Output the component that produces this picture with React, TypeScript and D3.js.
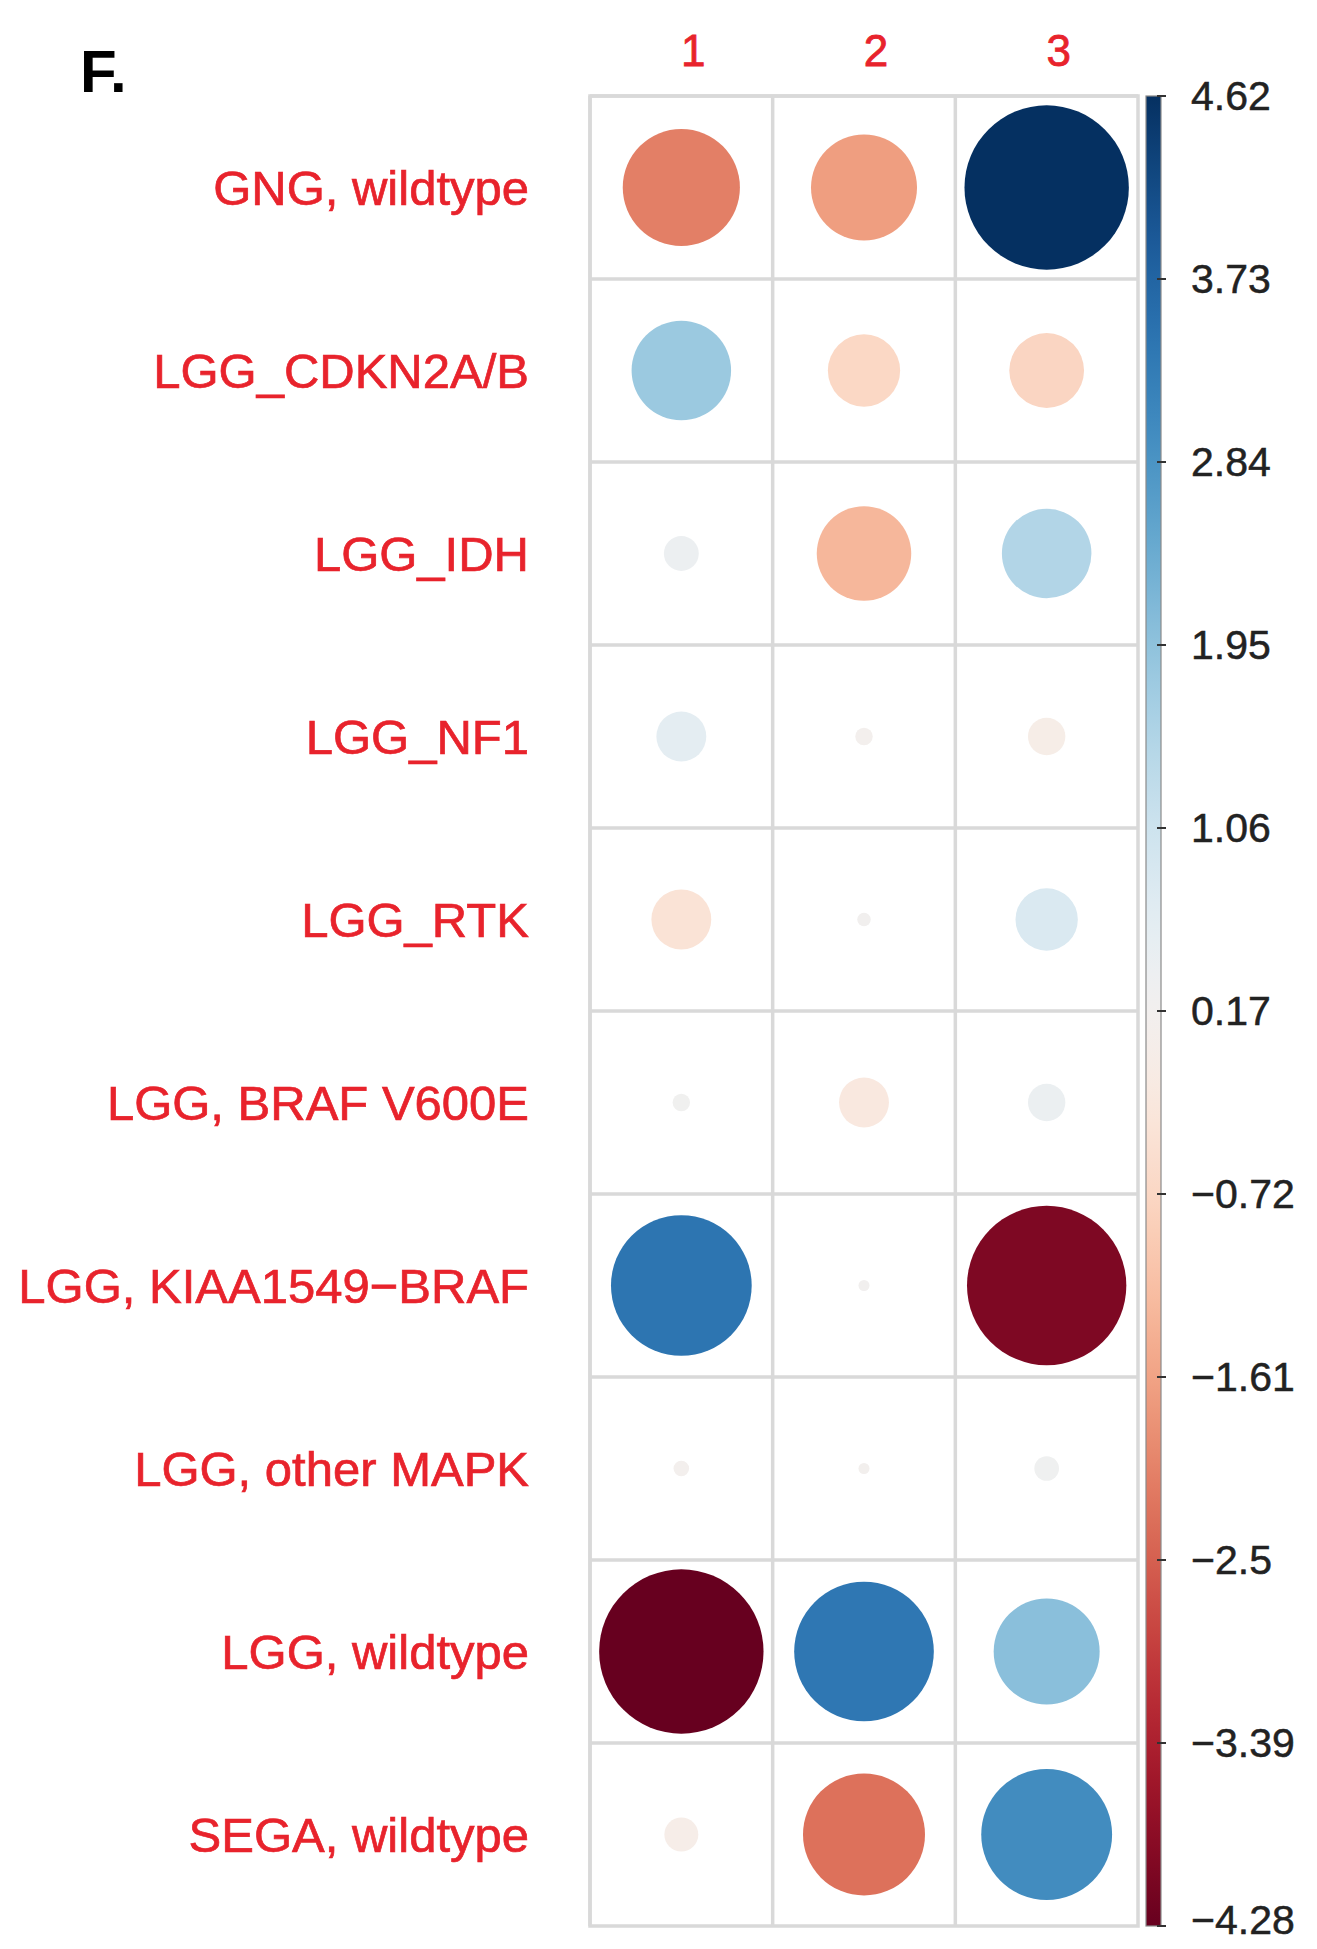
import React from 'react';
import * as d3 from 'd3';

const rowLabels = [
  'GNG, wildtype',
  'LGG_CDKN2A/B',
  'LGG_IDH',
  'LGG_NF1',
  'LGG_RTK',
  'LGG, BRAF V600E',
  'LGG, KIAA1549\u2212BRAF',
  'LGG, other MAPK',
  'LGG, wildtype',
  'SEGA, wildtype',
];

const colLabels = ['1', '2', '3'];

// one value per row, for each column
const col1Values = [-2.09, 1.8, 0.37, 0.58, -0.42, 0.22, 3.43, 0.13, -4.28, -0.02];
const col2Values = [-1.68, -0.69, -1.3, 0.12, 0.2, -0.24, 0.19, 0.15, 3.38, -2.28];
const col3Values = [4.62, -0.75, 1.49, -0.06, 0.81, 0.4, -4.01, 0.27, 2.02, 2.99];

const legendTicks = ['4.62', '3.73', '2.84', '1.95', '1.06', '0.17', '\u22120.72', '\u22121.61', '\u22122.5', '\u22123.39', '\u22124.28'];
const colorMin = -4.28;
const colorMax = 4.62;

const W = 1317;
const H = 1949;
const gridLeft = 590;
const gridRight = 1138;
const gridTop = 96;
const gridBottom = 1926;
const barX = 1146;
const barW = 15;
const labelRed = '#e8232c';

export default function App() {
  const series = [col1Values, col2Values, col3Values];

  const x = d3.scaleBand<string>().domain(colLabels).range([gridLeft, gridRight]).padding(0);
  const y = d3.scaleBand<string>().domain(rowLabels).range([gridTop, gridBottom]).padding(0);

  // corrplot style: values rescaled to [-1, 1] around the middle of the range
  const mid = (colorMin + colorMax) / 2;
  const half = (colorMax - colorMin) / 2;
  const scaled = d3.scaleLinear().domain([mid - half, mid + half]).range([-1, 1]);
  const color = (v: number) => d3.interpolateRdBu((scaled(v) + 1) / 2);
  const rMax = 0.45 * Math.min(x.bandwidth(), y.bandwidth());

  const legendY = d3.scaleLinear().domain([colorMin, colorMax]).range([gridBottom, gridTop]);
  const tickVals = d3.range(legendTicks.length).map(i => colorMax - (i * (colorMax - colorMin)) / (legendTicks.length - 1));
  const stops = d3.range(0, 1.0001, 0.02);

  const cells = rowLabels.flatMap((row, i) =>
    colLabels.map((col, j) => ({ row, col, v: series[j][i] }))
  );

  return (
    <svg width={W} height={H} style={{ position: 'absolute', left: 0, top: 0, background: '#fff' }}
      fontFamily="'Liberation Sans', Arial, sans-serif">
      <defs>
        <linearGradient id="bar" x1="0" y1="1" x2="0" y2="0">
          {stops.map(t => (
            <stop key={t} offset={t} stopColor={d3.interpolateRdBu(t)} />
          ))}
        </linearGradient>
      </defs>

      <text x={80} y={92} fontSize={60} fontWeight="bold" fill="#000">F.</text>

      {/* grid */}
      {colLabels.map((c, j) => (
        <line key={'v' + j} x1={x(c)!} x2={x(c)!} y1={gridTop} y2={gridBottom} stroke="#d9d9d9" strokeWidth={3.5} />
      ))}
      {rowLabels.map((r, i) => (
        <line key={'h' + i} x1={gridLeft} x2={gridRight} y1={y(r)!} y2={y(r)!} stroke="#d9d9d9" strokeWidth={3.5} />
      ))}
      <rect x={gridLeft} y={gridTop} width={gridRight - gridLeft} height={gridBottom - gridTop}
        fill="none" stroke="#d9d9d9" strokeWidth={3.5} />

      {/* circles */}
      {cells.map(d => (
        <circle key={d.row + d.col}
          cx={x(d.col)! + x.bandwidth() / 2}
          cy={y(d.row)! + y.bandwidth() / 2}
          r={rMax * Math.sqrt(Math.abs(scaled(d.v)))}
          fill={color(d.v)} />
      ))}

      {/* row labels */}
      {rowLabels.map(r => (
        <text key={r} x={529} y={y(r)! + y.bandwidth() / 2} dy="0.35em" textAnchor="end"
          fontSize={49} fill={labelRed} stroke={labelRed} strokeWidth={0.7}>{r}</text>
      ))}

      {/* column labels */}
      {colLabels.map(c => (
        <text key={c} x={x(c)! + x.bandwidth() / 2 + 12} y={66} textAnchor="middle"
          fontSize={44} fill={labelRed} stroke={labelRed} strokeWidth={0.8}>{c}</text>
      ))}

      {/* colour legend */}
      <rect x={barX} y={gridTop} width={barW} height={gridBottom - gridTop} fill="url(#bar)"
        stroke="#8a8a8a" strokeWidth={1.2} />
      {tickVals.map((v, i) => (
        <g key={i}>
          <line x1={barX + barW - 4} x2={barX + barW + 5} y1={legendY(v)} y2={legendY(v)} stroke="#333" strokeWidth={2} />
          <text x={1191} y={Math.min(legendY(v), 1920)} dy="0.35em" fontSize={41} fill="#222"
            stroke="#222" strokeWidth={0.5}>{legendTicks[i]}</text>
        </g>
      ))}
    </svg>
  );
}
